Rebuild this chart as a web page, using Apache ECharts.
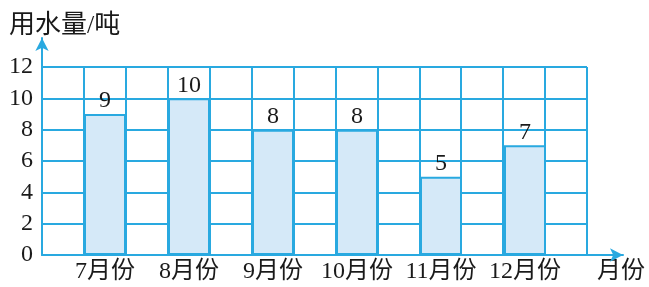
<!DOCTYPE html>
<html>
<head>
<meta charset="utf-8">
<script src="https://cdn.jsdelivr.net/npm/echarts@6/dist/echarts.min.js"></script>
<style>
  html, body { margin: 0; padding: 0; background: #fff; }
  #chart { width: 649px; height: 287px; }
</style>
</head>
<body>
<div id="chart"></div>
<script>
const months = ["7月份", "8月份", "9月份", "10月份", "11月份", "12月份"];
const usage = [9, 10, 8, 8, 5, 7];
const yMax = 12;
const yStep = 2;
const gridColumns = 13;

const lineColor = "#29a9e0";
const textColor = "#1a1a1a";
const font = "'Liberation Serif', 'Noto Sans CJK SC', serif";

const chart = echarts.init(document.getElementById("chart"));

chart.setOption({
  animation: false,
  title: {
    text: "用水量/吨",
    left: 9,
    top: 13,
    padding: 0,
    textStyle: { fontFamily: font, fontSize: 26, fontWeight: "normal", color: textColor },
  },
  grid: [
    // lattice
    { left: 42, right: 62, top: 67, bottom: 32 },
    // axes with arrows
    { left: 42, right: 26, top: 38, bottom: 32 },
    // bars
    { left: 63, right: 82, top: 67, bottom: 32 },
  ],
  xAxis: [
    {
      gridIndex: 0,
      type: "value",
      min: 0,
      max: gridColumns,
      interval: 1,
      axisLine: { show: false },
      axisTick: { show: false },
      axisLabel: { show: false },
      splitLine: { show: true, lineStyle: { color: lineColor, width: 2 } },
    },
    {
      gridIndex: 1,
      type: "value",
      min: 0,
      max: 1,
      name: "月份",
      nameLocation: "end",
      nameGap: -2,
      nameTextStyle: {
        fontFamily: font,
        fontSize: 24,
        color: textColor,
        align: "center",
        verticalAlign: "top",
        padding: [5, 0, 0, 0],
      },
      axisLine: {
        show: true,
        symbol: ["none", "arrow"],
        symbolSize: [10, 13],
        lineStyle: { color: lineColor, width: 2 },
      },
      axisTick: { show: false },
      axisLabel: { show: false },
      splitLine: { show: false },
    },
    {
      gridIndex: 2,
      type: "category",
      data: months,
      boundaryGap: true,
      axisLine: { show: false },
      axisTick: { show: false },
      axisLabel: {
        interval: 0,
        margin: 5,
        fontFamily: font,
        fontSize: 24,
        color: textColor,
      },
    },
  ],
  yAxis: [
    {
      gridIndex: 0,
      type: "value",
      min: 0,
      max: yMax,
      interval: yStep,
      axisLine: { show: false },
      axisTick: { show: false },
      axisLabel: { margin: 9, fontFamily: font, fontSize: 24, color: textColor },
      splitLine: { show: true, lineStyle: { color: lineColor, width: 2 } },
    },
    {
      gridIndex: 1,
      type: "value",
      min: 0,
      max: 1,
      axisLine: {
        show: true,
        symbol: ["none", "arrow"],
        symbolSize: [10, 13],
        lineStyle: { color: lineColor, width: 2 },
      },
      axisTick: { show: false },
      axisLabel: { show: false },
      splitLine: { show: false },
    },
    {
      gridIndex: 2,
      type: "value",
      min: 0,
      max: yMax,
      interval: yStep,
      show: false,
    },
  ],
  series: [
    {
      type: "bar",
      xAxisIndex: 2,
      yAxisIndex: 2,
      data: usage,
      barWidth: 42,
      z: 5,
      itemStyle: {
        color: "#d5e9f8",
        borderColor: lineColor,
        borderWidth: 2,
      },
      label: {
        show: true,
        position: "top",
        distance: 1,
        fontFamily: font,
        fontSize: 24,
        color: textColor,
      },
    },
  ],
});
</script>
</body>
</html>
